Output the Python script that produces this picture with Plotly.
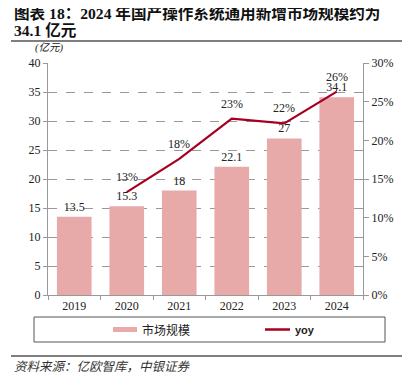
import plotly.graph_objects as go

years = ["2019", "2020", "2021", "2022", "2023", "2024"]
market_size = [13.5, 15.3, 18.0, 22.1, 27.0, 34.1]
yoy_years = ["2020", "2021", "2022", "2023", "2024"]
yoy = [0.133, 0.176, 0.228, 0.222, 0.263]

SERIF = "Liberation Serif, Times New Roman, Noto Sans CJK SC, serif"
CJK = "Liberation Serif, Noto Sans CJK SC, serif"

BAR_COLOR = "#E8A9A9"
LINE_COLOR = "#A50021"

# page body adds an 8px offset; work in screenshot coordinates
OFF = 8
W, H = 402, 378
L, T = 48 - OFF, 63 - OFF
pw, ph = 315, 232
R, B = W - L - pw, H - T - ph

def px(x):
    return (x - OFF - L) / pw

def py(y):
    return (T + ph - (y - OFF)) / ph

fig = go.Figure()
fig.add_trace(go.Bar(
    x=years, y=market_size, name="市场规模",
    marker=dict(color=BAR_COLOR, line=dict(width=0)),
    width=0.66,
    text=[("%g" % v) for v in market_size], textposition="outside",
    textfont=dict(family=SERIF, size=12, color="#222"),
    cliponaxis=False,
))
fig.add_trace(go.Scatter(
    x=yoy_years, y=yoy, name="yoy", yaxis="y2",
    mode="lines", line=dict(color=LINE_COLOR, width=2.2),
    cliponaxis=False,
))

# category axis: annotations take the category index
yoy_labels = [
    dict(text="%d%%" % round(v * 100), x=years.index(xc), y=v, xref="x", yref="y2",
         yshift=15, showarrow=False, xanchor="center", yanchor="middle",
         font=dict(family=SERIF, size=12, color="#222"))
    for xc, v in zip(yoy_years, yoy)
]

fig.update_layout(
    width=W, height=H, autosize=False,
    margin=dict(l=L, r=R, t=T, b=B, autoexpand=False),
    paper_bgcolor="white", plot_bgcolor="white",
    font=dict(family=SERIF, size=12, color="#222"),
    showlegend=False,
    xaxis=dict(
        type="category", categoryorder="array", categoryarray=years,
        range=[-0.5, len(years) - 0.5],
        showline=True, linecolor="#999", linewidth=1,
        ticks="outside", tickson="boundaries", ticklen=4, tickcolor="#999",
        tickfont=dict(family=SERIF, size=12, color="#222"),
        showgrid=False,
    ),
    yaxis=dict(
        range=[0, 40], dtick=5, showline=True, linecolor="#999", linewidth=1,
        showgrid=True, gridcolor="#999", griddash="dash", gridwidth=0.8,
        ticks="outside", ticklen=4, tickcolor="#999",
        tickfont=dict(family=SERIF, size=12, color="#222"),
        zeroline=False,
    ),
    yaxis2=dict(
        overlaying="y", side="right", range=[0, 0.30], dtick=0.05,
        tickformat=".0%", showgrid=False, showline=True, linecolor="#999",
        linewidth=1, ticks="outside", ticklen=5, tickcolor="#999",
        tickfont=dict(family=SERIF, size=12, color="#222"), zeroline=False,
    ),
    shapes=[
        # legend frame and keys
        dict(type="rect", xref="paper", yref="paper", x0=px(34), x1=px(385),
             y0=py(342), y1=py(317), line=dict(color="#555", width=1)),
        dict(type="rect", xref="paper", yref="paper", x0=px(113), x1=px(137),
             y0=py(332), y1=py(327), fillcolor=BAR_COLOR, line=dict(width=0)),
        dict(type="line", xref="paper", yref="paper", x0=px(265), x1=px(290),
             y0=py(329.5), y1=py(329.5), line=dict(color=LINE_COLOR, width=2.5)),
        # header / footer rules
        dict(type="line", xref="paper", yref="paper", x0=px(11), x1=px(410),
             y0=py(41), y1=py(41), line=dict(color="#555", width=1.5)),
        dict(type="line", xref="paper", yref="paper", x0=px(11), x1=px(410),
             y0=py(356), y1=py(356), line=dict(color="#555", width=1.5)),
    ],
    annotations=yoy_labels + [
        dict(text="<b>图表 18：2024 年国产操作系统通用新增市场规模约为</b>",
             xref="paper", yref="paper", x=px(12), y=py(13.5), xanchor="left",
             yanchor="middle", showarrow=False,
             font=dict(family=CJK, size=15.6, color="#111")),
        dict(text="<b>34.1 亿元</b>",
             xref="paper", yref="paper", x=px(12), y=py(31), xanchor="left",
             yanchor="middle", showarrow=False,
             font=dict(family=CJK, size=15.6, color="#111")),
        dict(text="<i>(亿元)</i>", xref="paper", yref="paper", x=px(33), y=py(48),
             xanchor="left", yanchor="middle", showarrow=False,
             font=dict(family=CJK, size=10.5, color="#222")),
        dict(text="市场规模", xref="paper", yref="paper", x=px(140), y=py(330),
             xanchor="left", yanchor="middle", showarrow=False,
             font=dict(family=CJK, size=12, color="#222")),
        dict(text="<b>yoy</b>", xref="paper", yref="paper", x=px(293), y=py(330),
             xanchor="left", yanchor="middle", showarrow=False,
             font=dict(family="Liberation Sans, Arial, sans-serif", size=11, color="#222")),
        dict(text="<i>资料来源：亿欧智库，中银证券</i>", xref="paper", yref="paper",
             x=px(12), y=py(367), xanchor="left", yanchor="middle", showarrow=False,
             font=dict(family=CJK, size=12.5, color="#333")),
    ],
)

fig.write_html("out.html")
